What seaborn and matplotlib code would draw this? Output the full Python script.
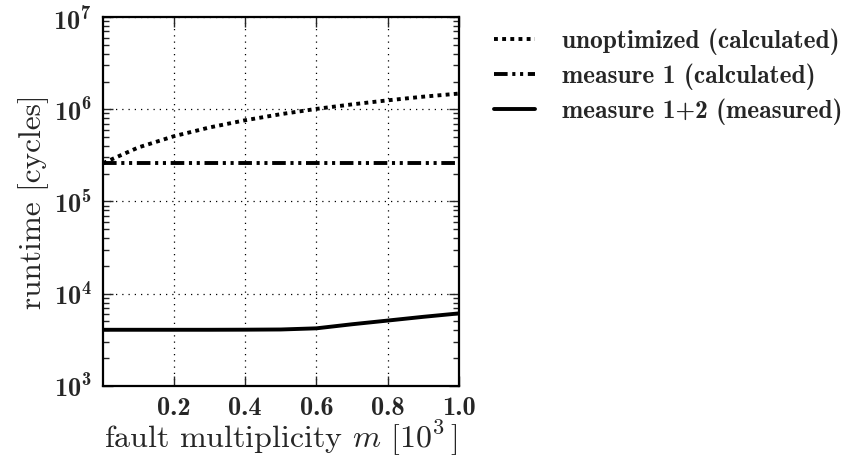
import seaborn as sns
import matplotlib.pyplot as plt
import matplotlib.ticker as ticker
import numpy as np
import pandas as pd

# fault multiplicity m in units of 10^3
m_vals = [0.001, 0.1, 0.2, 0.3, 0.4, 0.5, 0.6, 0.7, 0.8, 0.9, 1.0]

unoptimized = [2.6e5, 3.85e5, 5.1e5, 6.35e5, 7.6e5, 8.85e5, 1.01e6, 1.13e6, 1.25e6, 1.37e6, 1.48e6]
measure1 = [2.6e5, 2.6e5, 2.6e5, 2.6e5, 2.6e5, 2.6e5, 2.6e5, 2.6e5, 2.6e5, 2.6e5, 2.6e5]
measure12 = [4050, 4050, 4050, 4050, 4060, 4080, 4200, 4650, 5100, 5600, 6100]

labels = ["unoptimized (calculated)", "measure 1 (calculated)", "measure 1+2 (measured)"]
xticks = [0.2, 0.4, 0.6, 0.8, 1.0]
yticks = [1e3, 1e4, 1e5, 1e6, 1e7]

df = pd.DataFrame({
    "m": m_vals * 3,
    "runtime": unoptimized + measure1 + measure12,
    "series": [labels[0]] * len(m_vals) + [labels[1]] * len(m_vals) + [labels[2]] * len(m_vals),
})

sns.set_style("ticks")
plt.rcParams["font.family"] = ["cmr10", "DejaVu Serif"]
plt.rcParams["axes.formatter.use_mathtext"] = True
# bold computer modern for the math in tick labels
plt.rcParams["mathtext.fontset"] = "custom"
plt.rcParams["mathtext.rm"] = "cmb10"
plt.rcParams["mathtext.bf"] = "cmb10"
plt.rcParams["mathtext.it"] = "cmmi10"

fig = plt.figure(figsize=(8.41, 4.62), dpi=100)
ax = fig.add_axes([0.1225, 0.165, 0.4233, 0.798])

dashes = {labels[0]: (1, 1.1), labels[1]: (3.5, 1.2, 0.8, 1.2, 0.8, 1.2), labels[2]: ""}
sns.lineplot(data=df, x="m", y="runtime", style="series", dashes=dashes,
             color="black", lw=2.8, ax=ax, legend=False)

ax.set_yscale("log")
ax.set_ylim(1e3, 1e7)
ax.set_xlim(0.001, 1.0)

ax.set_xticks(xticks, [f"{v:.1f}" for v in xticks], fontfamily="cmb10", fontsize=19)
ax.set_yticks(yticks, [r"$10^{%d}$" % int(round(np.log10(v))) for v in yticks], fontsize=19)
ax.yaxis.set_minor_locator(ticker.LogLocator(base=10, subs=np.arange(2, 10), numticks=20))
ax.yaxis.set_minor_formatter(ticker.NullFormatter())

ax.tick_params(which="both", direction="in", top=True, right=True, width=1)
ax.tick_params(which="major", length=7, pad=8)
ax.tick_params(which="minor", length=4)
for s in ax.spines.values():
    s.set_linewidth(1.6)
    s.set_color("black")

ax.grid(True, which="major", linestyle=(0, (1, 4)), color="black", linewidth=0.9)

ax.set_xlabel(r"fault multiplicity $m$ $[10^3\,]$", fontsize=23, labelpad=-1,
              math_fontfamily="cm")
ax.set_ylabel("runtime [cycles]", fontsize=22.5, labelpad=3)

handles = ax.get_lines()[:3]
leg = ax.legend(handles, labels, loc="upper left", bbox_to_anchor=(1.035, 1.031),
                frameon=False, prop={"family": "cmb10", "size": 18.3},
                handlelength=1.6, handletextpad=1.05, labelspacing=0.33)

fig.savefig("out.png", dpi=100)
